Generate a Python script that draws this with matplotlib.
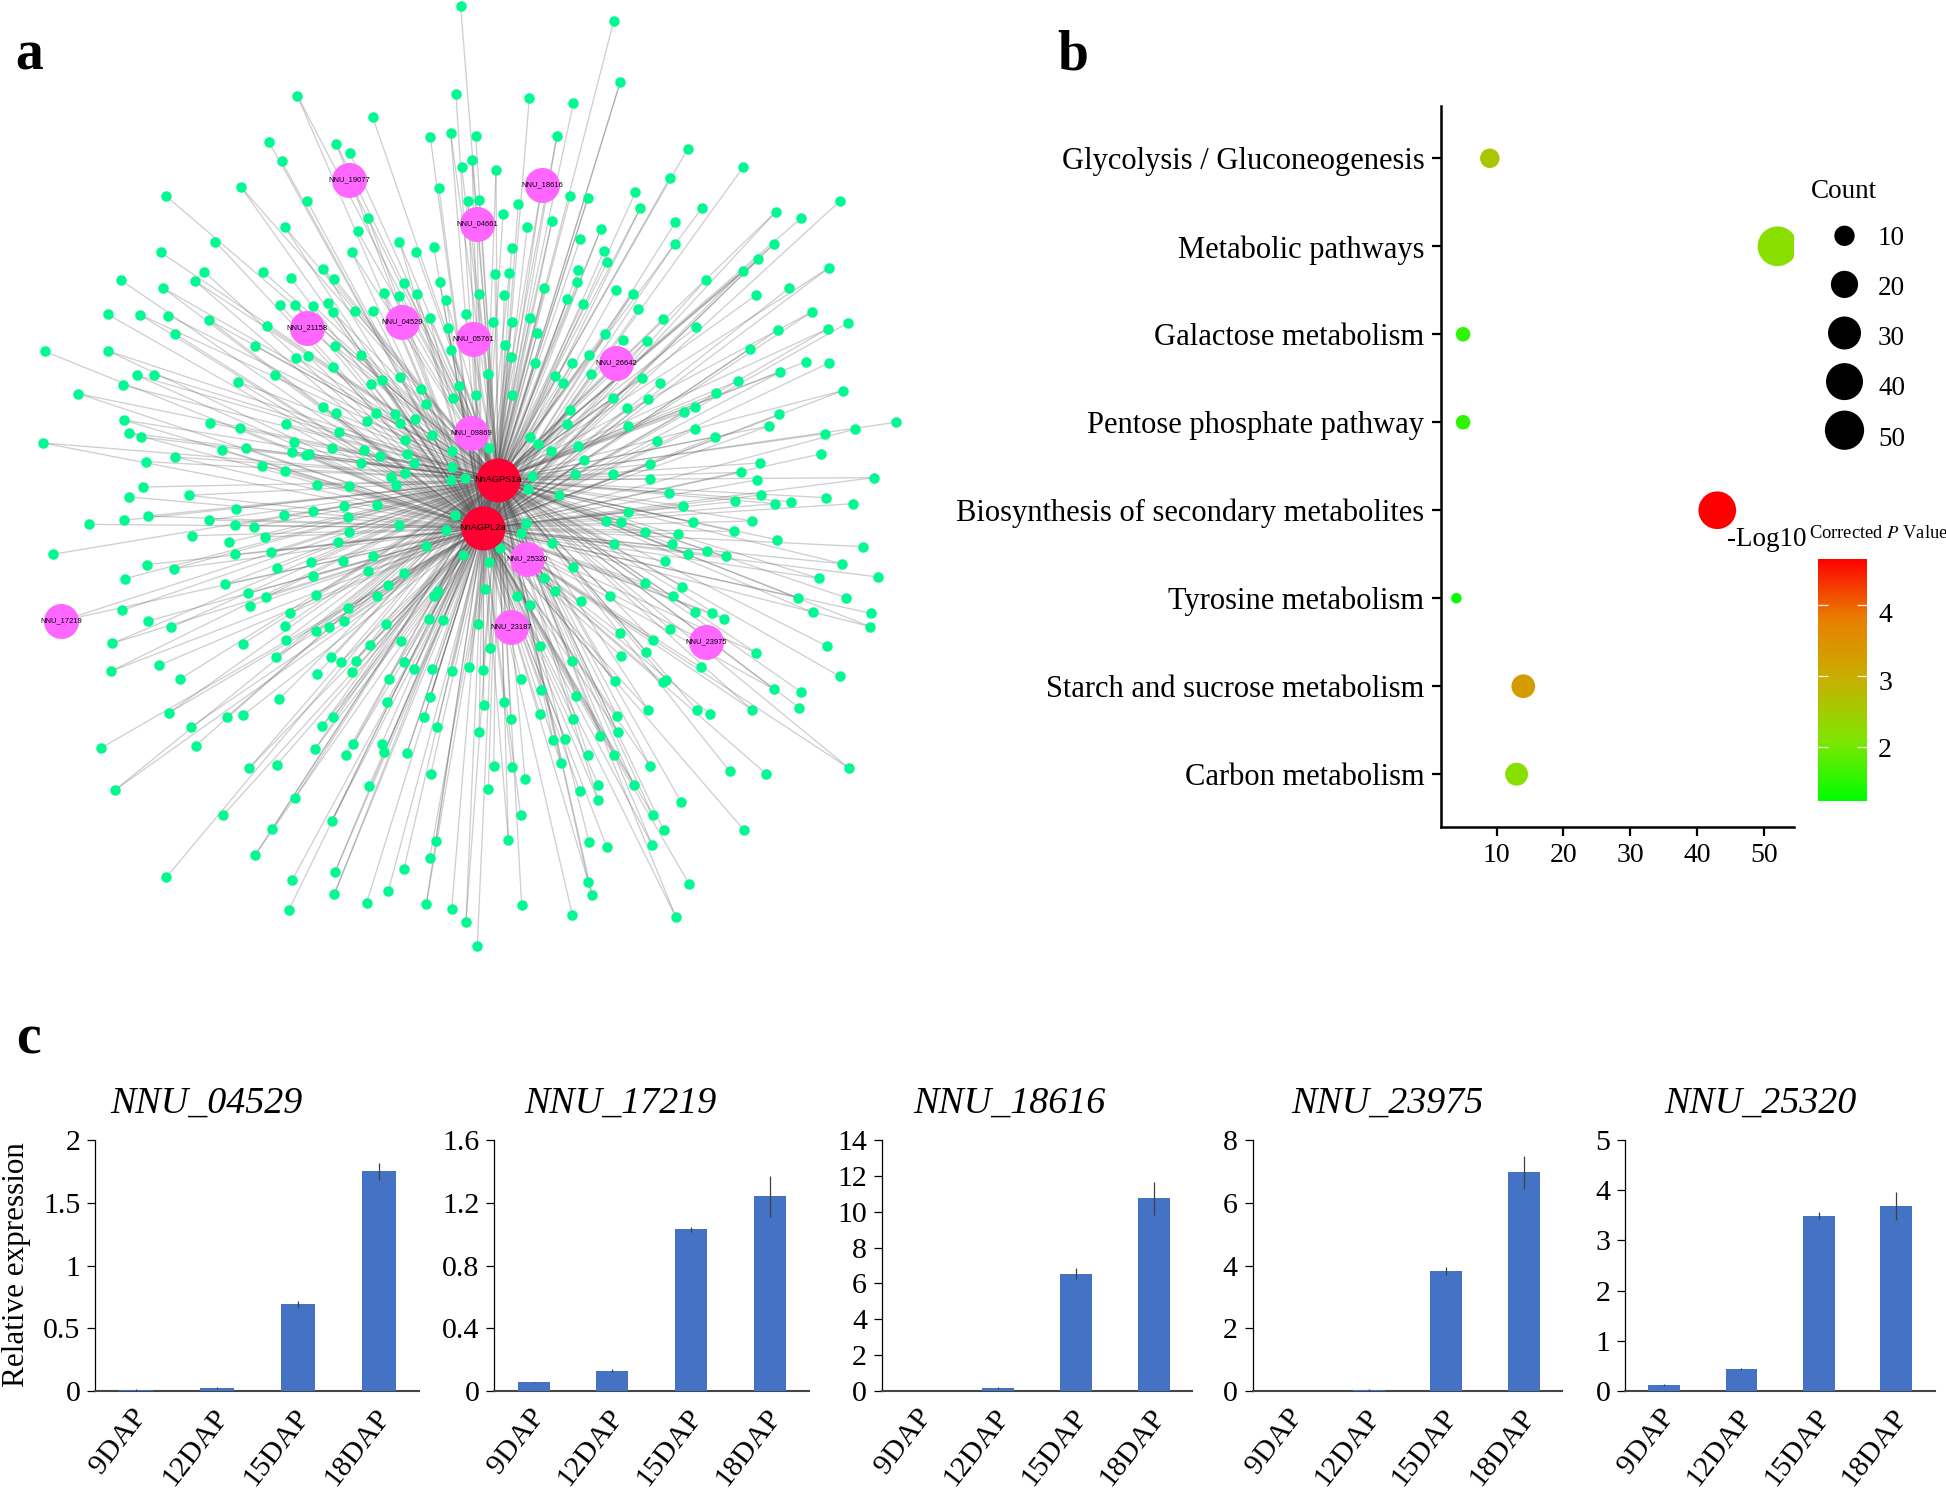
import numpy as np
import matplotlib
matplotlib.use('Agg')
import matplotlib.pyplot as plt
from matplotlib.collections import LineCollection
from matplotlib.colors import LinearSegmentedColormap
from matplotlib.transforms import ScaledTranslation

plt.rcParams['font.family'] = ['Liberation Serif', 'DejaVu Serif']
plt.rcParams['mathtext.fontset'] = 'stix'

W, H = 1946, 1493
PT = 72 / 100  # one pixel in points at dpi 100

# --- panel a: network, node positions (image pixels) ---
hub_names = ['NnAGPS1a', 'NnAGPL2a']
hub_x = [498, 483]
hub_y = [480, 528]

module_names = ['NNU_19077', 'NNU_04661', 'NNU_18616', 'NNU_21158', 'NNU_04529', 'NNU_05761',
                'NNU_26642', 'NNU_09869', 'NNU_25320', 'NNU_23187', 'NNU_23975', 'NNU_17219']
module_x = [349, 477, 542, 307, 402, 473, 616, 471, 527, 511, 706, 61]
module_y = [180, 224, 185, 328, 322, 339, 363, 433, 559, 627, 642, 621]

nodes_top_left = [
    (1382, 18), (1368, 282), (892, 287), (1118, 351), (1291, 412), (1352, 400), (1427, 409), (807, 426),
    (1009, 432), (1049, 458), (845, 484), (1416, 480), (1385, 502), (1317, 565), (723, 561), (497, 587),
    (921, 602), (1404, 603), (1437, 601), (1104, 653), (854, 681), (1073, 694), (646, 725), (1198, 725),
    (1249, 756), (1301, 741), (1055, 756), (482, 757), (613, 815), (586, 844), (790, 816), (872, 834),
    (970, 806), (1003, 836), (362, 840), (488, 863), (1213, 850), (1319, 847), (1152, 880), (1198, 887),
    (1251, 881), (1339, 901), (1437, 881), (323, 943), (420, 944), (505, 947), (841, 915), (884, 915),
    (940, 917), (984, 910), (1000, 937), (1064, 932), (1120, 933), (628, 961), (800, 978), (524, 1001),
    (1289, 955), (1397, 943), (1345, 984), (1004, 1038), (765, 1037), (134, 1054), (325, 1053), (889, 1073),
    (924, 1067), (1084, 1064), (1353, 1050), (999, 1102), (410, 1126), (462, 1124), (826, 1124), (713, 1145),
    (369, 1156), (1113, 1152), (1145, 1140), (1201, 1132), (1262, 1168), (1378, 1159), (1358, 1195),
    (1428, 1185), (235, 1181), (1277, 1213), (970, 1220), (1008, 1240), (1127, 1240), (1185, 1243),
    (1246, 1256), (1101, 1262), (1200, 1269), (371, 1260), (631, 1269), (720, 1285), (858, 1272), (1016, 1296),
    (1296, 1305), (386, 1299), (423, 1311), (1214, 1320), (130, 1329), (881, 1325), (665, 1351), (738, 1345),
    (877, 1355), (918, 1364), (928, 1362), (995, 1345), (1093, 1349), (1140, 1368), (1221, 1361), (1356, 1352),
    (526, 1371), (438, 1385), (786, 1397), (855, 1412), (1084, 1388), (1242, 1389), (1356, 1400), (1214, 1420),
    (1173, 1430), (1395, 1433), (1353, 1440)]

nodes_top_right = [
    (401, 64), (421, 245), (148, 295), (280, 310), (231, 407), (623, 447), (790, 501), (48, 509), (570, 533),
    (271, 589), (324, 593), (115, 611), (466, 577), (481, 624), (667, 623), (1080, 603), (888, 635), (963, 655),
    (69, 643), (216, 663), (142, 680), (586, 667), (363, 686), (300, 718), (584, 731), (881, 733), (95, 744),
    (372, 752), (835, 778), (382, 786), (295, 811), (789, 813), (45, 822), (88, 820), (1046, 804), (292, 847),
    (677, 840), (191, 863), (73, 886), (408, 870), (458, 881), (829, 885), (928, 864), (262, 898), (308, 911),
    (475, 928), (995, 936), (150, 954), (40, 967), (95, 965), (550, 956), (1105, 968), (172, 999), (649, 982),
    (895, 989), (1044, 986), (376, 1003), (429, 1020), (500, 1023), (75, 1034), (810, 1046), (92, 1070),
    (327, 1065), (165, 1088), (277, 1089), (978, 1085), (1048, 1088), (25, 1123), (225, 1128), (333, 1123),
    (487, 1133), (250, 1149), (540, 1148), (899, 1117), (773, 1143), (95, 1185), (399, 1193), (709, 1180),
    (505, 1198), (1088, 1172), (270, 1231), (440, 1224), (644, 1220), (611, 1237), (896, 1243), (260, 1272),
    (443, 1278), (644, 1288), (867, 1278), (1247, 1267), (1126, 1287), (150, 1312), (173, 1333), (531, 1323),
    (704, 1311), (1035, 1301), (28, 1345), (212, 1354), (295, 1337), (313, 1381), (509, 1392), (839, 1389),
    (1022, 1362), (284, 1423), (400, 1422), (157, 1428), (783, 1417), (511, 1437), (830, 1440), (1181, 1433)]

nodes_bottom_left = [
    (429, 21), (388, 51), (566, 46), (950, 15), (1046, 17), (1187, 15), (707, 86), (1031, 77), (1131, 76),
    (940, 94), (851, 105), (444, 108), (371, 121), (266, 133), (628, 120), (1044, 112), (1366, 104), (705, 136),
    (761, 140), (1197, 134), (1339, 149), (1047, 155), (576, 167), (794, 171), (688, 186), (1013, 187),
    (1278, 199), (158, 223), (706, 223), (812, 215), (1118, 228), (1388, 224), (932, 246), (1030, 243),
    (440, 254), (521, 266), (830, 264), (1104, 273), (1213, 279), (375, 296), (940, 289), (674, 313), (1165, 316),
    (744, 340), (799, 351), (948, 345), (1132, 347), (1314, 333), (1301, 348), (750, 377), (1044, 383), (367, 391),
    (869, 400), (1287, 418), (1330, 421), (445, 423), (1031, 423), (855, 437), (987, 441), (948, 452), (513, 442),
    (1157, 431), (1435, 432), (857, 479), (1202, 482), (337, 490), (730, 491), (1109, 494), (828, 530), (994, 530),
    (1023, 545), (1067, 542), (1211, 545), (477, 556), (332, 574), (952, 581), (1055, 575), (1242, 568), (1297, 568),
    (1356, 574), (1408, 561), (540, 597), (1166, 597), (1291, 650), (838, 657), (1160, 665), (506, 699), (680, 711),
    (729, 706), (1000, 711), (1272, 712), (574, 740), (967, 738), (1310, 740), (1437, 755), (1060, 793), (1145, 791),
    (1152, 815), (1221, 818), (587, 797), (303, 804), (946, 806), (1037, 825), (830, 855), (748, 864), (1292, 883),
    (1107, 918), (345, 930), (885, 954), (670, 1005), (995, 1024), (817, 1047), (1307, 1084), (766, 1124), (1289, 1135),
    (1212, 1166), (1005, 1176), (499, 1192), (876, 1201), (1003, 1242), (1165, 1232), (1100, 1268), (1279, 1272),
    (866, 1291), (1355, 1288), (1398, 1326), (1432, 1398)]

nodes_bottom_right = [
    (145, 26), (237, 44), (568, 39), (842, 45), (610, 78), (1037, 53), (766, 64), (886, 71), (933, 65), (1119, 71),
    (445, 95), (377, 123), (422, 127), (817, 123), (639, 127), (137, 130), (122, 159), (494, 157), (595, 162),
    (763, 154), (890, 179), (217, 188), (401, 193), (577, 193), (1149, 200), (61, 204), (625, 221), (681, 212),
    (737, 229), (26, 245), (555, 244), (1086, 251), (278, 262), (1195, 291), (1017, 295), (191, 295), (226, 332),
    (495, 310), (606, 320), (15, 328), (112, 348), (389, 348), (580, 348), (953, 353), (1098, 353), (303, 364),
    (149, 374), (644, 395), (697, 400), (732, 417), (998, 397), (1173, 400), (1171, 440), (569, 446), (419, 460),
    (518, 480), (1042, 499), (180, 498), (29, 505), (497, 515), (424, 529), (827, 518), (275, 543), (662, 562),
    (9, 569), (1079, 589), (123, 598), (404, 602), (558, 600), (549, 606), (882, 628), (962, 635), (184, 630),
    (289, 648), (72, 666), (11, 674), (504, 689), (651, 691), (690, 701), (815, 689), (957, 683), (180, 702),
    (412, 709), (92, 716), (280, 716), (413, 757), (219, 780), (256, 778), (361, 767), (323, 824), (401, 826),
    (242, 849), (41, 859), (96, 861), (511, 859), (749, 874), (859, 882), (1106, 864), (135, 897), (355, 914),
    (461, 914), (25, 928), (299, 932), (354, 959), (604, 967), (122, 1005), (518, 1005), (551, 1050), (791, 1049),
    (85, 1081), (327, 1085), (380, 1100), (517, 1096), (325, 1205), (628, 1213), (337, 1246), (125, 1275),
    (277, 1305), (588, 1312)]

# --- panel b: enrichment bubbles ---
pathways = ['Glycolysis / Gluconeogenesis', 'Metabolic pathways', 'Galactose metabolism',
            'Pentose phosphate pathway', 'Biosynthesis of secondary metabolites',
            'Tyrosine metabolism', 'Starch and sucrose metabolism', 'Carbon metabolism']
counts = [9, 52, 5, 5, 43, 4, 14, 13]
log_p = [2.6, 2.2, 1.55, 1.55, 4.66, 1.23, 3.3, 2.2]
count_legend = [10, 20, 30, 40, 50]

# --- panel c: expression bars ---
stages = ['9DAP', '12DAP', '15DAP', '18DAP']
genes = ['NNU_04529', 'NNU_17219', 'NNU_18616', 'NNU_23975', 'NNU_25320']
expr_04529 = [0.008, 0.025, 0.69, 1.75]
err_04529 = [0.005, 0.006, 0.03, 0.07]
expr_17219 = [0.055, 0.13, 1.03, 1.24]
err_17219 = [0.005, 0.01, 0.015, 0.13]
expr_18616 = [0.0, 0.15, 6.55, 10.75]
err_18616 = [0.0, 0.05, 0.3, 0.93]
expr_23975 = [0.0, 0.03, 3.83, 6.97]
err_23975 = [0.0, 0.02, 0.12, 0.53]
expr_25320 = [0.12, 0.44, 3.49, 3.68]
err_25320 = [0.02, 0.02, 0.07, 0.28]
ticks_04529 = [0, 0.5, 1, 1.5, 2]
ticks_17219 = [0, 0.4, 0.8, 1.2, 1.6]
ticks_18616 = [0, 2, 4, 6, 8, 10, 12, 14]
ticks_23975 = [0, 2, 4, 6, 8]
ticks_25320 = [0, 1, 2, 3, 4, 5]


def px_axes(left, top, right, bottom):
    return fig.add_axes([left / W, 1 - bottom / H, (right - left) / W, (bottom - top) / H])


def dot_size(diameter_px):
    return (np.asarray(diameter_px) * PT) ** 2


def bubble_diameter(n):
    # size scale of the bubble plot, in pixels
    return np.interp(n, [4, 5, 9, 14, 30, 40, 52], [10.5, 14.6, 19.5, 23.7, 33, 37, 39.7])


fig = plt.figure(figsize=(W / 100, H / 100), dpi=100)

# panel a
net = fig.add_axes([0, 0, 1, 1])
net.set_xlim(0, W)
net.set_ylim(H, 0)
net.axis('off')

nodes = ([(x / 3, y / 3) for x, y in nodes_top_left]
         + [(480 + x / 3, y / 3) for x, y in nodes_top_right]
         + [(x / 3, 480 + y / 3) for x, y in nodes_bottom_left]
         + [(480 + x / 3, 480 + y / 3) for x, y in nodes_bottom_right])
node_x = [p[0] for p in nodes]
node_y = [p[1] for p in nodes]

segments = []
for i, p in enumerate(nodes + list(zip(module_x, module_y))):
    # one or two links per target gene
    if i % 3 != 1:
        segments.append([p, (hub_x[0], hub_y[0])])
    if i % 3 != 0:
        segments.append([p, (hub_x[1], hub_y[1])])
net.add_collection(LineCollection(segments, colors='#555555', linewidths=0.95, alpha=0.28, zorder=1))

net.scatter(node_x, node_y, s=dot_size(10.5), color='#00F990', linewidths=0, zorder=2)
net.scatter(module_x, module_y, s=dot_size(35), color='#FF66FF', linewidths=0, zorder=3)
net.scatter(hub_x, hub_y, s=dot_size(44), color='#FF0033', linewidths=0, zorder=4)
for name, x, y in zip(module_names, module_x, module_y):
    net.text(x, y, name, fontsize=5.4, family='Liberation Sans', ha='center', va='center', zorder=5)
for name, x, y in zip(hub_names, hub_x, hub_y):
    net.text(x, y, name, fontsize=6.6, family='Liberation Sans', ha='center', va='center', zorder=5)

net.text(29, 56, 'a', fontsize=40, fontweight='bold', ha='center', va='center')
net.text(1073, 56, 'b', fontsize=40, fontweight='bold', ha='center', va='center')
net.text(28, 1040, 'c', fontsize=40, fontweight='bold', ha='center', va='center')

# panel b
green_red = LinearSegmentedColormap.from_list(
    'green_red', ['#00FF00', '#80E600', '#C8B000', '#E88000', '#FF0000'])
vmin, vmax = 1.23, 4.66

bub = px_axes(1441, 105.5, 1794, 827)
y_pos = np.arange(len(pathways), 0, -1)
bub.scatter(counts, y_pos, s=dot_size(bubble_diameter(counts)), c=log_p, cmap=green_red,
            vmin=vmin, vmax=vmax, linewidths=0, zorder=3)
bub.set_xlim(1.7, 54.47)
bub.set_ylim(0.4, 8.6)
bub.set_yticks(y_pos)
bub.set_yticklabels(pathways, fontsize=22)
bub.set_xticks([10, 20, 30, 40, 50])
bub.tick_params(axis='x', labelsize=20, length=9 * PT, width=1.6, pad=5)
bub.tick_params(axis='y', length=9 * PT, width=1.6, pad=5.5)
for side in ['top', 'right']:
    bub.spines[side].set_visible(False)
for side in ['left', 'bottom']:
    bub.spines[side].set_linewidth(1.8)
bub.patch.set_alpha(0)

# count legend
leg = px_axes(1811, 211, 1878, 455)
leg.scatter([0.5] * len(count_legend), count_legend, s=dot_size(bubble_diameter(count_legend)),
            color='black', linewidths=0, clip_on=False)
leg.set_xlim(0, 1)
leg.set_ylim(55.1, 4.9)
leg.set_xticks([])
leg.yaxis.tick_right()
# the legend's labels drift a little below their dots in the original
leg.set_yticks([10, 20.14, 30.6, 40.9, 51.2], [str(c) for c in count_legend])
leg.tick_params(axis='y', length=0, pad=0, labelsize=19.5)
for s in leg.spines.values():
    s.set_visible(False)
leg.patch.set_alpha(0)
net.text(1844, 192, 'Count', fontsize=19.5, ha='center', va='center')

# colour bar
cbar = px_axes(1818, 558.5, 1867, 801)
cbar.imshow(np.linspace(1, 0, 256).reshape(-1, 1), cmap=green_red, aspect='auto',
            extent=[0, 1, vmin, vmax], vmin=0, vmax=1)
cbar.hlines([2, 3, 4], 0, 0.2, color='#F2F2F2', linewidth=0.9)
cbar.hlines([2, 3, 4], 0.8, 1, color='#F2F2F2', linewidth=0.9)
cbar.set_xticks([])
cbar.yaxis.tick_right()
cbar.set_yticks([1.98, 2.93, 3.89], ['2', '3', '4'])
cbar.tick_params(axis='y', length=0, pad=8, labelsize=20)
for s in cbar.spines.values():
    s.set_visible(False)
net.text(1727, 539, '-Log10', fontsize=19.5, ha='left', va='center', zorder=6)
net.text(1809, 534, r'Corrected $\mathit{P}$ Value', fontsize=13.3, ha='left', va='center', zorder=6)

# panel c
axes_px = [(95.4, 419.4), (494.4, 809), (881.9, 1192.5), (1252.5, 1562.5), (1625.3, 1935)]
title_x = [206, 620, 1009.4, 1387.7, 1760.5]
values = [expr_04529, expr_17219, expr_18616, expr_23975, expr_25320]
errors = [err_04529, err_17219, err_18616, err_23975, err_25320]
yticks = [ticks_04529, ticks_17219, ticks_18616, ticks_23975, ticks_25320]
label_shift = ScaledTranslation(6 / 100, 0, fig.dpi_scale_trans)

for k, gene in enumerate(genes):
    ax = px_axes(axes_px[k][0], 1140, axes_px[k][1], 1391)
    x = np.arange(len(stages))
    ax.bar(x, values[k], width=0.41, color='#4472C4', zorder=2.6)
    ax.errorbar(x, values[k], yerr=errors[k], fmt='none', ecolor='#404040', elinewidth=0.9, capsize=0, zorder=3)
    ax.set_xlim(-0.5, 3.5)
    ax.set_ylim(0, yticks[k][-1])
    ax.set_yticks(yticks[k])
    ax.set_yticklabels([str(t) for t in yticks[k]], fontsize=21.5)
    ax.tick_params(axis='y', length=8 * PT, width=0.9, pad=5)
    ax.set_xticks(x)
    ax.set_xticklabels(stages, fontsize=21.5, rotation=52, ha='right', va='center', rotation_mode='anchor')
    ax.tick_params(axis='x', length=0, pad=15)
    for lbl in ax.get_xticklabels():
        lbl.set_transform(lbl.get_transform() + label_shift)
    for side in ['top', 'right']:
        ax.spines[side].set_visible(False)
    ax.spines['left'].set_linewidth(0.9)
    ax.spines['bottom'].set_linewidth(1.5)
    ax.spines['bottom'].set_color('#444444')
    net.text(title_x[k], 1103, gene, fontsize=27.4, style='italic', ha='center', va='center')
    if k == 0:
        net.text(17, 1265, 'Relative expression', fontsize=22.4, rotation=90, ha='center', va='center')

fig.savefig('out.png', dpi=100)
